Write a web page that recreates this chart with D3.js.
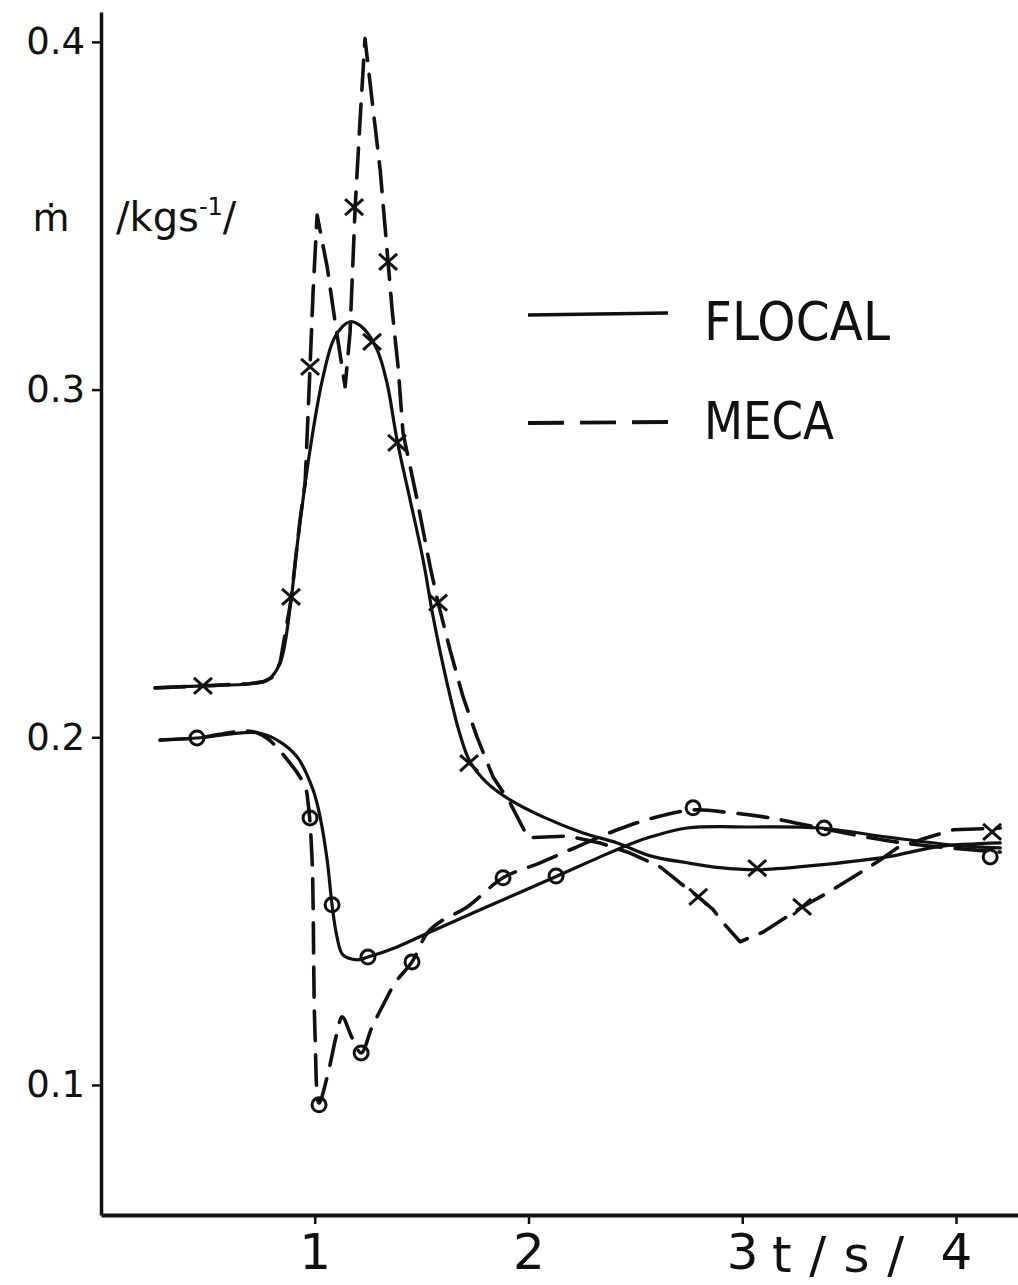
<!DOCTYPE html>
<html>
<head>
<meta charset="utf-8">
<script src="https://cdn.jsdelivr.net/npm/d3@7"></script>
<style>
  html, body { margin: 0; padding: 0; background: #fff; }
  svg text { font-family: "DejaVu Sans", "Liberation Sans", sans-serif; fill: #111; }
</style>
</head>
<body>
<svg id="chart" width="1018" height="1285"></svg>
<script>
// Mass flow rate ṁ (kg/s) against time t (s), FLOCAL vs MECA

// FLOCAL, upper branch (solid)
const flocalUpperT = [0.253,0.477,0.697,0.781,0.838,0.889,0.917,0.978,1.039,1.095,1.165,1.226,1.292,1.338,1.385,1.446,1.507,1.554,1.619,1.680,1.727,1.806,1.914,2.068,2.255,2.415,2.569,2.742,2.896,3.070,3.365,3.678,3.912,4.207];
const flocalUpperV = [0.2142,0.2148,0.2154,0.2165,0.2214,0.2395,0.2548,0.2827,0.3037,0.3152,0.3195,0.3177,0.3114,0.3019,0.2855,0.2683,0.2510,0.2346,0.2156,0.2007,0.1929,0.1869,0.1820,0.1771,0.1725,0.1696,0.1659,0.1639,0.1625,0.1619,0.1633,0.1656,0.1685,0.1696];

// MECA, upper branch (dashed)
const mecaUpperT = [0.253,0.697,0.760,0.800,0.838,0.889,0.931,0.955,0.978,0.992,1.011,1.058,1.095,1.142,1.165,1.189,1.212,1.235,1.268,1.306,1.343,1.362,1.390,1.413,1.479,1.540,1.577,1.633,1.694,1.759,1.834,1.914,1.998,2.181,2.335,2.475,2.616,2.709,2.794,2.864,2.911,2.990,3.098,3.280,3.397,3.519,3.645,3.725,3.832,3.987,4.207];
const mecaUpperV = [0.2142,0.2154,0.2160,0.2172,0.2214,0.2395,0.2625,0.2732,0.3065,0.3278,0.3502,0.3353,0.3195,0.3008,0.3163,0.3525,0.3776,0.4010,0.3833,0.3632,0.3367,0.3229,0.3065,0.2875,0.2683,0.2490,0.2387,0.2251,0.2116,0.2001,0.1886,0.1811,0.1711,0.1716,0.1696,0.1667,0.1627,0.1581,0.1541,0.1504,0.1466,0.1412,0.1440,0.1512,0.1552,0.1598,0.1647,0.1682,0.1705,0.1734,0.1739];

// FLOCAL, lower branch (solid)
const flocalLowerT = [0.276,0.449,0.730,0.824,0.917,0.992,1.025,1.058,1.081,1.104,1.132,1.198,1.249,1.385,1.540,1.774,2.124,2.335,2.489,2.569,2.742,3.051,3.365,3.678,3.987,4.207];
const flocalLowerV = [0.1992,0.1998,0.2013,0.1992,0.1944,0.1849,0.1771,0.1647,0.1518,0.1426,0.1374,0.1360,0.1368,0.1397,0.1440,0.1504,0.1598,0.1656,0.1696,0.1713,0.1739,0.1742,0.1739,0.1713,0.1690,0.1682];

// MECA, lower branch (dashed)
const mecaLowerT = [0.276,0.449,0.730,0.884,0.955,0.969,0.987,1.001,1.020,1.058,1.104,1.128,1.175,1.217,1.268,1.320,1.376,1.455,1.526,1.586,1.713,1.881,2.054,2.227,2.415,2.583,2.770,2.943,3.131,3.365,3.598,3.832,4.207];
const mecaLowerV = [0.1992,0.1998,0.2013,0.1926,0.1857,0.1811,0.1656,0.1150,0.0948,0.1023,0.1150,0.1196,0.1135,0.1092,0.1167,0.1230,0.1294,0.1354,0.1437,0.1469,0.1512,0.1596,0.1639,0.1685,0.1734,0.1768,0.1791,0.1783,0.1768,0.1739,0.1711,0.1690,0.1670];

// Marked points: crosses on the upper pair, circles on the lower pair
const crossT = [0.477,0.889,0.978,1.184,1.268,1.343,1.385,1.577,1.722,2.794,3.070,3.280,4.169];
const crossV = [0.2148,0.2404,0.3065,0.3525,0.3137,0.3367,0.2847,0.2387,0.1926,0.1541,0.1624,0.1512,0.1728];
const circleT = [0.449,0.978,1.081,1.249,1.020,1.217,1.455,1.881,2.129,2.770,3.383,4.160];
const circleV = [0.1998,0.1768,0.1518,0.1368,0.0943,0.1092,0.1354,0.1596,0.1601,0.1797,0.1739,0.1656];

// Axis ticks
const xTicks = [1, 2, 3, 4];
const yTicks = [0.1, 0.2, 0.3, 0.4];

const legendNames = ["FLOCAL", "MECA"];

const ink = "#111";
const svg = d3.select("#chart");

const x = d3.scaleLinear().domain([0, 4.29]).range([101, 1018]);
const y = d3.scaleLinear().domain([0.0626, 0.4086]).range([1215, 12]);

// Axes
const yAxis = d3.axisLeft(y)
  .tickValues(yTicks)
  .tickFormat(d3.format(".1f"))
  .tickSizeInner(9).tickSizeOuter(0).tickPadding(7);
const gy = svg.append("g").attr("transform", "translate(101,0)").call(yAxis);
gy.select(".domain").attr("stroke", ink).attr("stroke-width", 3.5);
gy.selectAll(".tick line").attr("stroke", ink).attr("stroke-width", 2.5);
gy.selectAll(".tick text").attr("font-size", 37).attr("fill", ink).style("font-family", "DejaVu Sans, sans-serif");

const xAxis = d3.axisBottom(x)
  .tickValues(xTicks)
  .tickFormat(d3.format("d"))
  .tickSizeInner(9).tickSizeOuter(0).tickPadding(9);
const gx = svg.append("g").attr("transform", "translate(0,1215)").call(xAxis);
gx.select(".domain").attr("stroke", ink).attr("stroke-width", 4);
gx.selectAll(".tick line").attr("stroke", ink).attr("stroke-width", 2.5);
gx.selectAll(".tick text").attr("font-size", 50).attr("fill", ink).style("font-family", "DejaVu Sans, sans-serif");

// Axis titles
svg.append("text").attr("x", 51).attr("y", 231).attr("text-anchor", "middle")
  .attr("font-size", 38).text("ṁ");
const unit = svg.append("text").attr("x", 116).attr("y", 231).attr("font-size", 40);
unit.append("tspan").text("/kgs");
unit.append("tspan").attr("dy", -16).attr("font-size", 24).text("-1");
unit.append("tspan").attr("dy", 16).text("/");

svg.append("text").attr("x", 772).attr("y", 1272).attr("font-size", 50)
  .attr("textLength", 132).attr("lengthAdjust", "spacing").text("t/s/");

// Curves: FLOCAL drawn smooth, MECA as a polyline through its points
const smoothLine = d3.line()
  .x(d => x(d[0]))
  .y(d => y(d[1]))
  .curve(d3.curveCatmullRom.alpha(0.5));
const polyLine = d3.line()
  .x(d => x(d[0]))
  .y(d => y(d[1]));

const series = [
  { t: flocalUpperT, v: flocalUpperV, dash: null,    gen: smoothLine },
  { t: flocalLowerT, v: flocalLowerV, dash: null,    gen: smoothLine },
  { t: mecaUpperT,   v: mecaUpperV,   dash: "30 14", gen: polyLine },
  { t: mecaLowerT,   v: mecaLowerV,   dash: "30 14", gen: smoothLine }
];

svg.append("g").selectAll("path")
  .data(series)
  .join("path")
  .attr("d", s => s.gen(d3.zip(s.t, s.v)))
  .attr("fill", "none")
  .attr("stroke", ink)
  .attr("stroke-width", s => s.dash ? 3.6 : 3.2)
  .attr("stroke-linecap", "round")
  .attr("stroke-linejoin", "round")
  .attr("stroke-dasharray", s => s.dash);

// Markers
svg.append("g").selectAll("path")
  .data(d3.zip(crossT, crossV))
  .join("path")
  .attr("transform", d => `translate(${x(d[0])},${y(d[1])})`)
  .attr("d", "M-9,-8L9,8M-9,8L9,-8")
  .attr("stroke", ink).attr("stroke-width", 3).attr("fill", "none");

svg.append("g").selectAll("circle")
  .data(d3.zip(circleT, circleV))
  .join("circle")
  .attr("cx", d => x(d[0]))
  .attr("cy", d => y(d[1]))
  .attr("r", 7)
  .attr("fill", "none")
  .attr("stroke", ink).attr("stroke-width", 3);

// Legend
const legend = svg.append("g");
legend.append("line").attr("x1", 528).attr("x2", 668).attr("y1", 315).attr("y2", 313)
  .attr("stroke", ink).attr("stroke-width", 3.5);
legend.append("line").attr("x1", 528).attr("x2", 668).attr("y1", 423).attr("y2", 422)
  .attr("stroke", ink).attr("stroke-width", 3.8).attr("stroke-dasharray", "36 16");
legend.append("text").attr("x", 704).attr("y", 340).attr("font-size", 54)
  .attr("textLength", 186).attr("lengthAdjust", "spacingAndGlyphs").text(legendNames[0]);
legend.append("text").attr("x", 704).attr("y", 439).attr("font-size", 52)
  .attr("textLength", 130).attr("lengthAdjust", "spacingAndGlyphs").text(legendNames[1]);
</script>
</body>
</html>
